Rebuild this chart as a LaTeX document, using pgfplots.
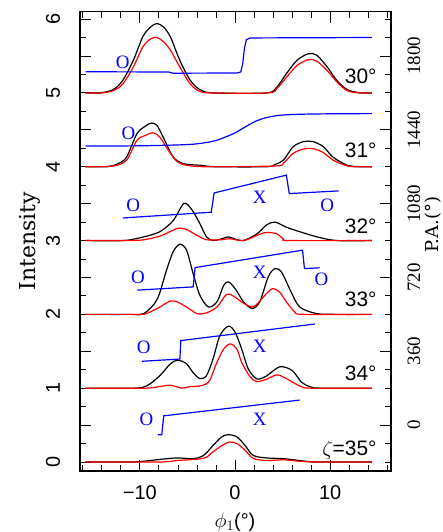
\documentclass[border=0pt]{standalone}
\usepackage{fontspec}
\setmainfont{Liberation Serif}
\setsansfont{Liberation Sans}
\newfontfamily\dvs{DejaVu Serif}
\usepackage{pgfplots}
\pgfplotsset{compat=1.18}
\usetikzlibrary{calc}
\tikzset{
  lbl/.style={font=\fontsize{19}{19}\selectfont, text=blue, inner sep=0pt, anchor=center},
  ang/.style={font=\fontsize{21}{21}\sffamily, anchor=base east, inner sep=0pt},
}
\begin{document}
\begin{tikzpicture}
\begin{axis}[
  name=main, scale only axis, width=311bp, height=459.3bp,
  xmin=-16.3, xmax=16.4, ymin=-0.122, ymax=6.10,
  /pgf/number format/assume math mode=true,
  xtick={-10,0,10}, xticklabels={−10,0,10},
  minor xtick={-16,-14,...,16},
  ytick={0,0.5,...,6}, yticklabels={0,,1,,2,,3,,4,,5,,6},
  minor ytick={0.25,0.75,...,5.75},
  ytick pos=left, xtick pos=both, tick align=inside,
  major tick length=11bp, minor tick length=6bp,
  every tick/.style={black, line width=0.9bp},
  axis line style={line width=1.2bp},
  xticklabel style={font=\fontsize{20}{20}\sffamily, anchor=center, yshift=-22bp},
  yticklabel style={font=\fontsize{20}{20}\sffamily, xshift=-27bp, rotate=90, anchor=center},
]
\coordinate (BL) at (rel axis cs:0,0);
\coordinate (TR) at (rel axis cs:1,1);
% 30 deg
\addplot[black, line width=1.2bp, smooth, tension=0.5] coordinates {(-15.7,5.0) (-14.2,5.0) (-12.8,5.045) (-11.8,5.17) (-10.7,5.44) (-9.7,5.76) (-8.9,5.89) (-8.2,5.94) (-7.5,5.89) (-6.8,5.76) (-5.8,5.44) (-4.7,5.17) (-3.7,5.045) (-2.3,5.0) (3.3,5.0) (4.4,5.08) (5.4,5.26) (6.5,5.44) (7.7,5.53) (8.6,5.51) (9.7,5.35) (10.7,5.17) (11.8,5.045) (13.2,5.0) (14.4,5.0)};
\addplot[red, line width=1.2bp, smooth, tension=0.5] coordinates {(-15.7,5.0) (-14,5.0) (-12.8,5.03) (-11.8,5.12) (-10.7,5.35) (-9.7,5.62) (-8.9,5.73) (-8.2,5.75) (-7.5,5.69) (-6.8,5.58) (-5.8,5.35) (-4.7,5.12) (-3.7,5.02) (-2.5,5.0) (3.5,5.0) (4.4,5.06) (5.4,5.21) (6.5,5.37) (7.7,5.45) (8.6,5.43) (9.7,5.30) (10.7,5.15) (11.8,5.03) (13,5.0) (14.4,5.0)};
% 31 deg
\addplot[black, line width=1.2bp, smooth, tension=0.5] coordinates {(-15.7,4.0) (-13.5,4.0) (-12.3,4.04) (-11.4,4.13) (-10.3,4.45) (-9.3,4.56) (-8.8,4.59) (-8.2,4.56) (-7.4,4.36) (-6.5,4.13) (-5.4,4.04) (-3.7,4.02) (-2.0,4.0) (3.3,4.0) (4.2,4.03) (5.1,4.09) (6.1,4.27) (7.2,4.34) (8.2,4.34) (9.3,4.27) (10.3,4.13) (11.8,4.02) (13.2,4.0) (14.4,4.0)};
\addplot[red, line width=1.2bp, smooth, tension=0.5] coordinates {(-15.7,4.0) (-12.8,4.01) (-11.4,4.09) (-10.3,4.36) (-9.3,4.43) (-8.6,4.46) (-7.9,4.40) (-7.0,4.22) (-6.1,4.07) (-5.1,4.02) (-3,4.0) (4.2,4.01) (5.1,4.05) (6.1,4.18) (7.2,4.24) (8.2,4.245) (9.3,4.19) (10.3,4.09) (11.8,4.01) (13,4.0) (14.4,4.0)};
% 32 deg
\addplot[black, line width=1.2bp, smooth, tension=0.5] coordinates {(-15.7,3.0) (-11.7,3.0) (-9.6,3.05) (-7.9,3.12) (-6.5,3.27) (-5.4,3.50) (-4.6,3.43) (-3.7,3.23) (-3.0,3.05) (-2.3,3.0) (-1.5,3.02) (-0.7,3.05) (0,3.02) (0.9,3.0) (2.3,3.09) (3.3,3.21) (4.2,3.25) (5.4,3.18) (6.8,3.12) (8.6,3.05) (10.7,3.0) (14.4,3.0)};
\addplot[red, line width=1.2bp, smooth, tension=0.5] coordinates {(-15.7,3.0) (-11.5,3.0) (-9.6,3.01) (-7.9,3.06) (-6.5,3.14) (-5.9,3.17) (-5.1,3.15) (-4.4,3.10) (-3.7,3.05) (-3.0,3.01) (-1.5,3.01) (-0.6,3.025) (0.9,3.0) (2.3,3.07) (3.3,3.11) (4.4,3.09) (5.1,3.02) (5.8,3.0) (14.4,3.0)};
% 33 deg
\addplot[black, line width=1.2bp, smooth, tension=0.5] coordinates {(-15.7,2.0) (-11,2.0) (-9.6,2.01) (-8.2,2.2) (-7.2,2.6) (-6.5,2.85) (-5.8,2.95) (-5.1,2.87) (-4.4,2.55) (-3.7,2.26) (-2.8,2.10) (-1.9,2.17) (-1.2,2.39) (-0.7,2.44) (0.0,2.35) (0.9,2.17) (1.8,2.08) (2.6,2.17) (3.5,2.51) (4.2,2.62) (4.9,2.57) (5.8,2.33) (6.8,2.10) (8.6,2.01) (10.7,2.0) (14.4,2.0)};
\addplot[red, line width=1.2bp, smooth, tension=0.5] coordinates {(-15.7,2.0) (-11,2.0) (-9.6,2.0) (-8.8,2.04) (-7.9,2.10) (-6.8,2.18) (-6.1,2.17) (-5.1,2.10) (-4.0,2.01) (-3.0,2.02) (-1.9,2.10) (-0.9,2.27) (-0.2,2.25) (0.9,2.15) (1.8,2.10) (2.4,2.15) (3.3,2.28) (4.0,2.35) (4.7,2.30) (5.4,2.17) (6.3,2.03) (7.2,2.0) (14.4,2.0)};
% 34 deg
\addplot[black, line width=1.2bp, smooth, tension=0.5] coordinates {(-15.7,1.0) (-10.7,1.0) (-9.3,1.03) (-7.9,1.17) (-6.8,1.33) (-6.0,1.38) (-5.1,1.33) (-4.4,1.21) (-3.7,1.13) (-3.0,1.17) (-2.3,1.40) (-1.6,1.71) (-0.7,1.84) (0.0,1.76) (0.7,1.53) (1.4,1.26) (2.3,1.125) (3.3,1.165) (4.7,1.29) (6.0,1.24) (7.0,1.08) (7.9,1.02) (9,1.0) (14.4,1.0)};
\addplot[red, line width=1.2bp, smooth, tension=0.5] coordinates {(-15.7,1.0) (-9.5,1.0) (-8.0,1.02) (-6.8,1.04) (-5.6,1.0) (-4.8,1.02) (-3.7,1.03) (-3.0,1.06) (-2.6,1.12) (-1.9,1.35) (-1.2,1.53) (-0.5,1.60) (0.2,1.53) (0.7,1.35) (1.6,1.15) (2.3,1.09) (3.3,1.12) (4.4,1.18) (5.4,1.13) (6.8,1.03) (8,1.0) (14.4,1.0)};
% 35 deg
\addplot[black, line width=1.2bp, smooth, tension=0.5] coordinates {(-15.7,0.0) (-11,0.0) (-9.6,0.01) (-7.9,0.035) (-6.1,0.055) (-4.4,0.045) (-3.3,0.09) (-2.3,0.225) (-1.4,0.34) (-0.7,0.37) (0.2,0.34) (1.05,0.225) (1.9,0.09) (3.3,0.055) (5.1,0.045) (6.8,0.02) (8.6,0.0) (14.4,0.0)};
\addplot[red, line width=1.2bp, smooth, tension=0.5] coordinates {(-15.7,0.0) (-8,0.0) (-6.1,0.02) (-3.3,0.05) (-2.3,0.14) (-1.4,0.22) (-0.6,0.27) (0.2,0.25) (1.05,0.16) (1.9,0.05) (3.3,0.02) (5.1,0.03) (6.8,0.01) (8.6,0.0) (14.4,0.0)};
% labels
\node[lbl] at (axis cs:-11.8,5.42) {O};
\node[lbl] at (axis cs:-11.2,4.45) {O};
\node[lbl] at (axis cs:-10.7,3.48) {O};
\node[lbl] at (axis cs:2.6,3.59) {X};
\node[lbl] at (axis cs:9.7,3.48) {O};
\node[lbl] at (axis cs:-10.2,2.50) {O};
\node[lbl] at (axis cs:2.6,2.57) {X};
\node[lbl] at (axis cs:9.1,2.48) {O};
\node[lbl] at (axis cs:-9.6,1.55) {O};
\node[lbl] at (axis cs:2.6,1.57) {X};
\node[lbl] at (axis cs:-9.3,0.58) {O};
\node[lbl] at (axis cs:2.6,0.58) {X};
\node[ang] at (axis cs:14.9,5.13) {30°};
\node[ang] at (axis cs:14.9,4.12) {31°};
\node[ang] at (axis cs:14.9,3.10) {32°};
\node[ang] at (axis cs:14.9,2.10) {33°};
\node[ang] at (axis cs:14.9,1.11) {34°};
\node[ang] at (axis cs:14.9,0.09) {$\zeta$=35°};
\end{axis}
\begin{axis}[
  scale only axis, width=311bp, height=459.3bp,
  xmin=-16.3, xmax=16.4, ymin=-224, ymax=2016,
  hide x axis, axis y line*=right,
  /pgf/number format/assume math mode=true,
  /pgf/number format/1000 sep={},
  ytick={0,360,...,1800}, minor ytick={-180,-90,...,1980},
  ytick pos=right, tick align=inside,
  major tick length=11bp, minor tick length=6bp,
  every tick/.style={black, line width=0.9bp},
  axis line style={line width=1.2bp},
  yticklabel style={font=\fontsize{19}{19}\selectfont, xshift=23bp, rotate=90, anchor=center},
]
\addplot[blue, line width=1.2bp] coordinates {(-15.7,1723) (-7,1722) (-6.5,1716) (0.2,1717) (0.6,1722) (0.8,1760) (1.0,1840) (1.2,1880) (1.6,1888) (14.4,1890)};
\addplot[blue, line width=1.2bp, smooth, tension=0.5] coordinates {(-15.7,1361) (-10,1362) (-5,1368) (-3,1378) (-2,1388) (-1,1405) (0,1425) (1,1452) (2,1478) (3,1496) (4,1506) (5,1512) (7,1516) (10,1518) (14.4,1519)};
\addplot[blue, line width=1.2bp] coordinates {(-11.8,1010) (-2.5,1038) (-2.2,1132) (5.4,1219) (5.7,1129) (10.9,1142)};
\addplot[blue, line width=1.2bp] coordinates {(-10.3,658) (-4.4,674) (-4.2,768) (7.1,853) (7.3,763) (8.9,767)};
\addplot[blue, line width=1.2bp] coordinates {(-9.8,311) (-5.8,322) (-5.7,412) (8.4,493)};
\addplot[blue, line width=1.2bp] coordinates {(-8.1,-47) (-7.7,-47) (-7.5,45) (6.8,122)};
\end{axis}
\node[rotate=90, font=\fontsize{22}{22}\dvs] at ($(BL)+(-50bp,230bp)$) {Intensity};
\node[rotate=90, font=\fontsize{18}{18}\dvs] at ($(TR)+(42bp,-213bp)$) {P.A.(°)};
\node[font=\fontsize{20}{20}\sffamily] at ($(BL)+(155bp,-51bp)$) {$\phi_{1}$(°)};
\pgfresetboundingbox
\path[use as bounding box] ($(BL)+(-80bp,-61bp)$) rectangle ($(TR)+(52bp,11.7bp)$);
\end{tikzpicture}
\end{document}
